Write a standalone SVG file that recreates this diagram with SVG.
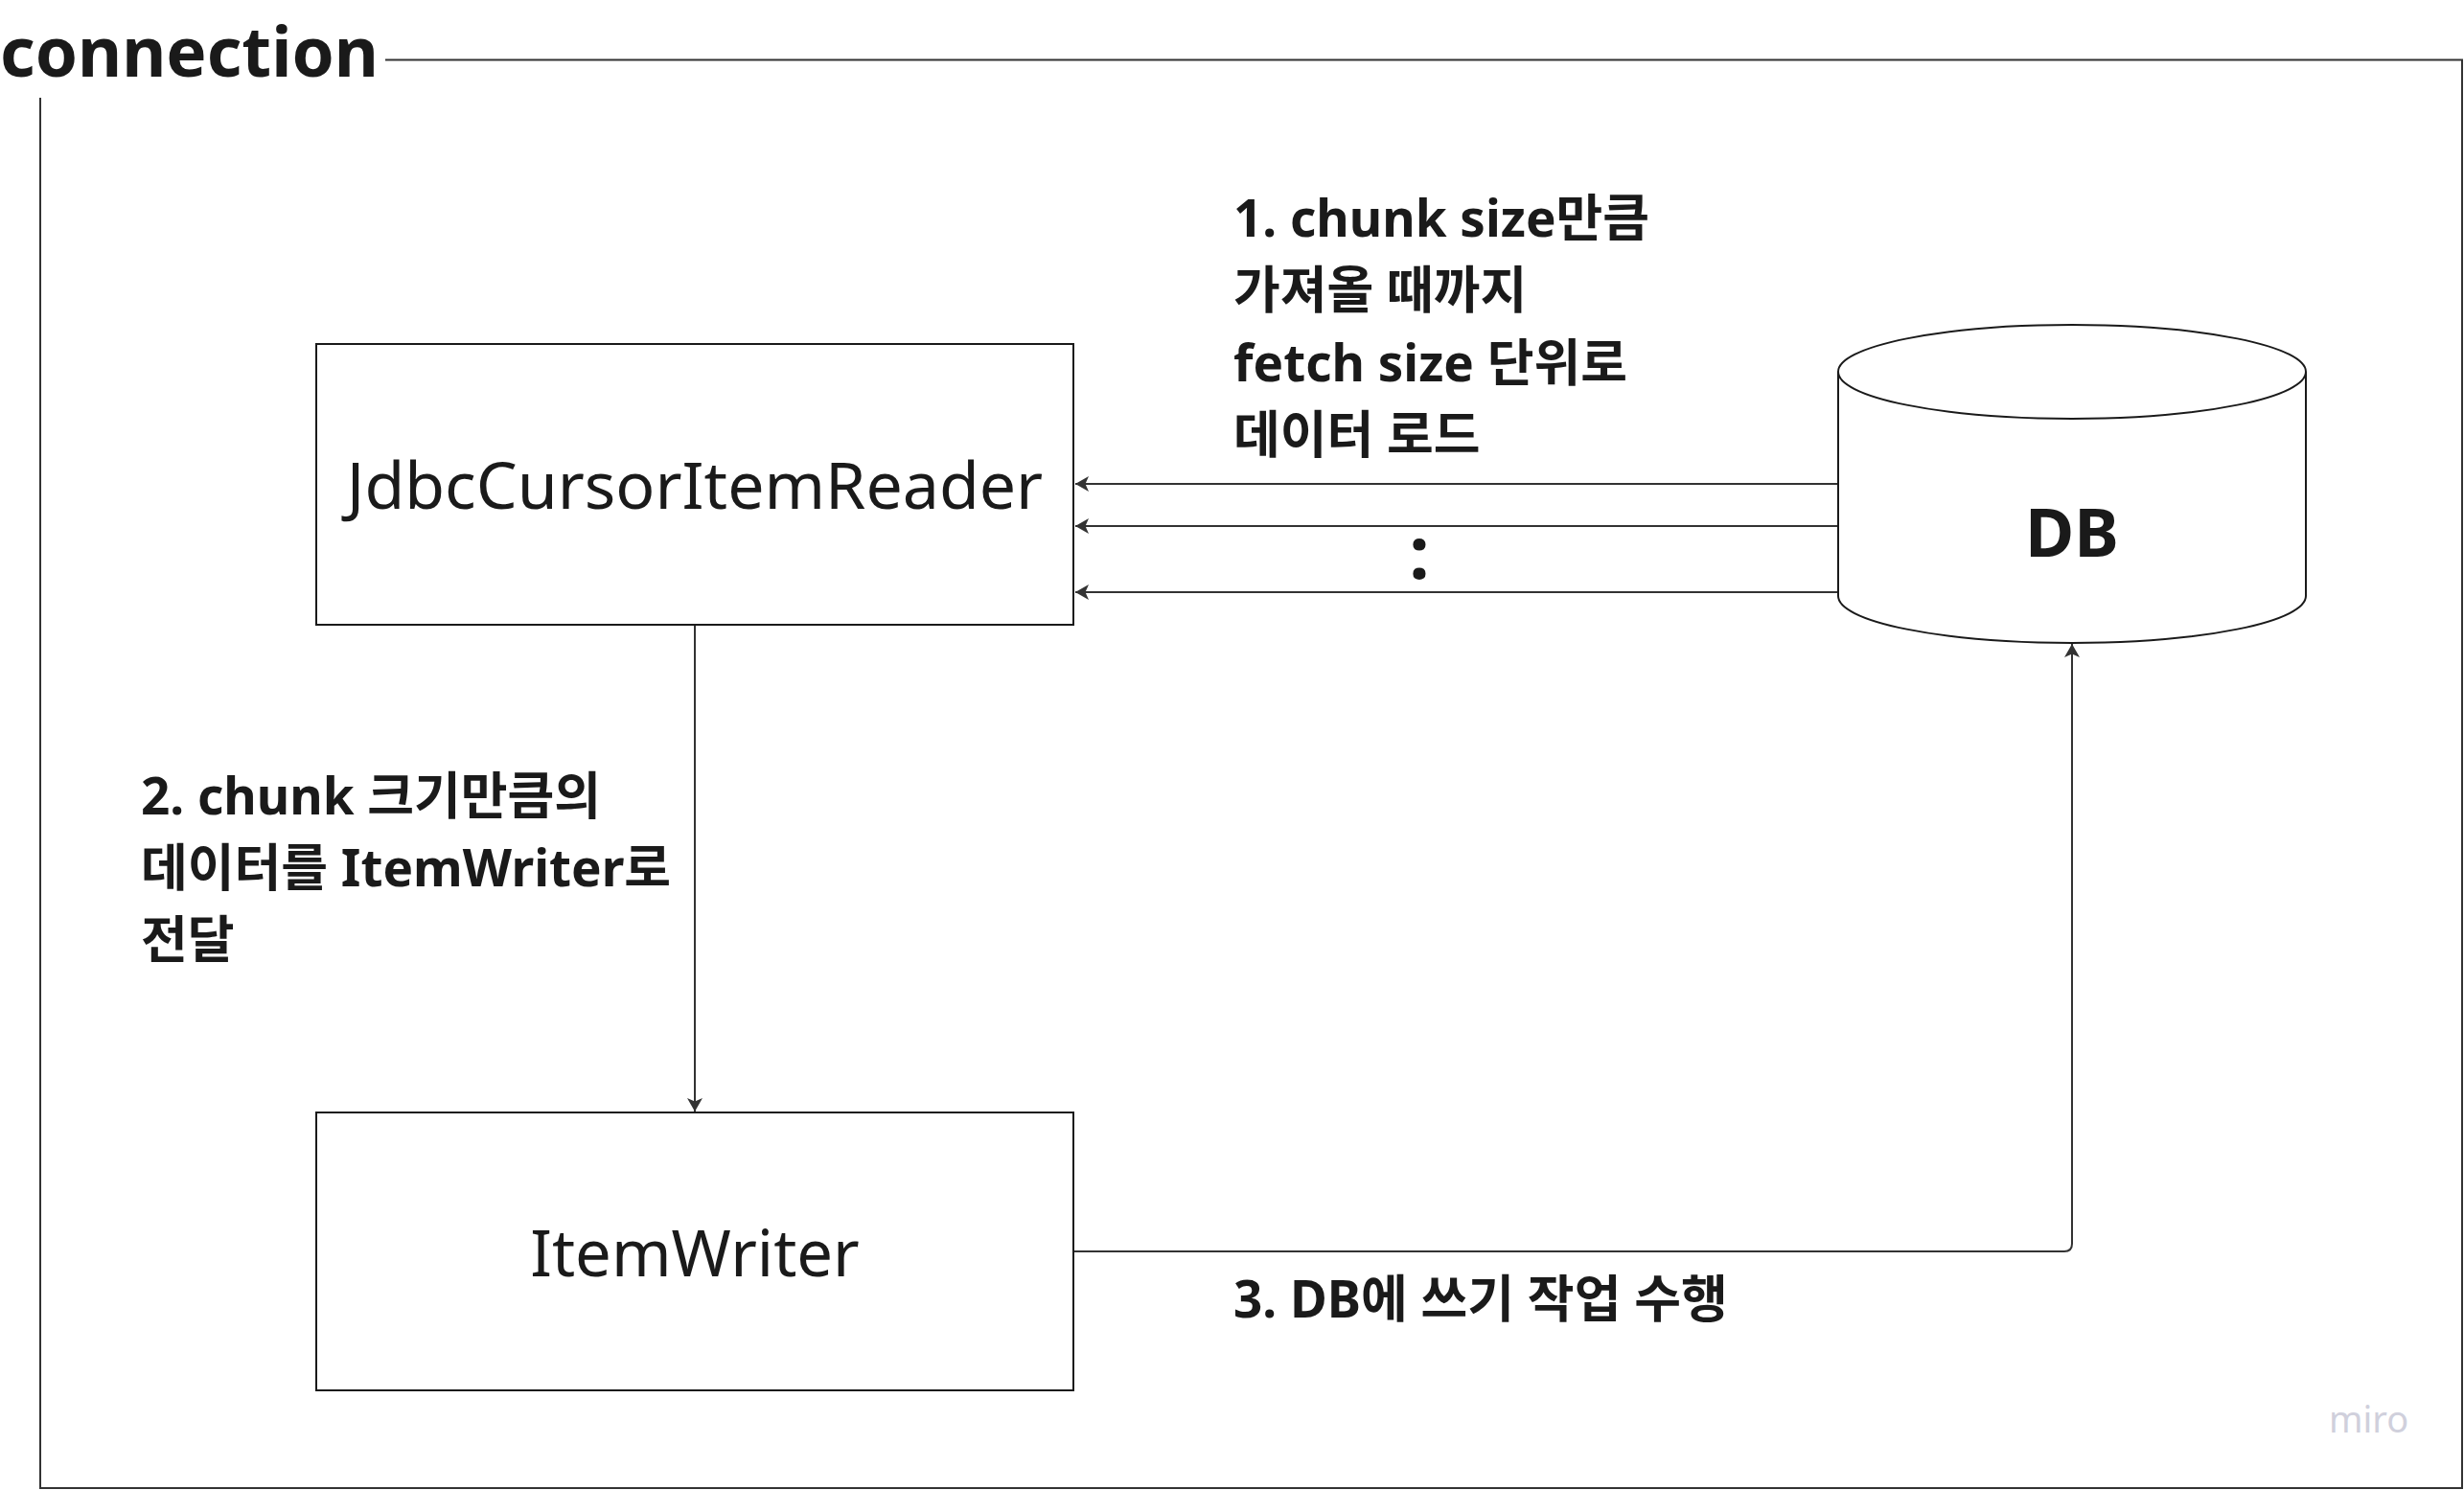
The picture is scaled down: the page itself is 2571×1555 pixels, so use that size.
<svg xmlns="http://www.w3.org/2000/svg" width="2571" height="1555" viewBox="0 0 2571 1555">
<style>
.frame{fill:none;stroke:#333;stroke-width:2}
.box{fill:#fff;stroke:#1a1a1a;stroke-width:2}
.conn{fill:none;stroke:#333;stroke-width:2}
.t{font-family:"Noto Sans","Noto Sans CJK KR",sans-serif;fill:#1a1a1a}
.lbl{font-family:"Noto Sans","Noto Sans CJK KR",sans-serif;font-weight:700;font-size:53px;fill:#1a1a1a}
</style>
<defs>
<marker id="arr" markerUnits="userSpaceOnUse" markerWidth="14" markerHeight="16" viewBox="0 0 14 16" refX="14" refY="8" orient="auto">
<path d="M0,0 L14,8 L0,16 L3.5,8 Z" fill="#333"/>
</marker>
</defs>
<rect width="2571" height="1555" fill="#fff"/>
<g id="frame">
<path class="frame" d="M402,62.5 H2569 V1553 H42 V102"/>
<text class="t" x="0" y="80" font-size="71" font-weight="700">connection</text>
</g>
<g id="connectors">
<line class="conn" x1="1918" y1="505" x2="1122" y2="505" marker-end="url(#arr)"/>
<line class="conn" x1="1918" y1="549" x2="1122" y2="549" marker-end="url(#arr)"/>
<line class="conn" x1="1918" y1="618" x2="1122" y2="618" marker-end="url(#arr)"/>
<line class="conn" x1="725" y1="652" x2="725" y2="1160" marker-end="url(#arr)"/>
<path class="conn" d="M1121,1306 H2154 Q2162,1306 2162,1298 V672" marker-end="url(#arr)"/>
<text class="t" x="1481" y="604" font-size="76" font-weight="700" text-anchor="middle">:</text>
</g>
<g id="reader">
<rect class="box" x="330" y="359" width="790" height="293"/>
<text class="t" x="725" y="531" font-size="68" text-anchor="middle">JdbcCursorItemReader</text>
</g>
<g id="writer">
<rect class="box" x="330" y="1161" width="790" height="290"/>
<text class="t" x="725" y="1332" font-size="67" text-anchor="middle">ItemWriter</text>
</g>
<g id="db">
<path class="box" d="M1918,388 A244,49 0 0 1 2406,388 V622 A244,49 0 0 1 1918,622 Z"/>
<path class="box" d="M1918,388 A244,49 0 0 0 2406,388"/>
<text class="t" x="2162" y="581" font-size="70" font-weight="700" text-anchor="middle">DB</text>
</g>
<g id="label1">
<text class="lbl" x="1287" y="247">1. chunk size만큼</text>
<text class="lbl" x="1287" y="322">가져올 때까지</text>
<text class="lbl" x="1287" y="398">fetch size 단위로</text>
<text class="lbl" x="1287" y="473">데이터 로드</text>
</g>
<g id="label2">
<text class="lbl" x="147" y="850">2. chunk 크기만큼의</text>
<text class="lbl" x="147" y="925">데이터를 ItemWriter로</text>
<text class="lbl" x="147" y="1000">전달</text>
</g>
<g id="label3">
<text class="lbl" x="1287" y="1375">3. DB에 쓰기 작업 수행</text>
</g>
<g id="watermark">
<text class="t" x="2430" y="1495" font-size="38" style="fill:#d0d0dc">miro</text>
</g>
</svg>
